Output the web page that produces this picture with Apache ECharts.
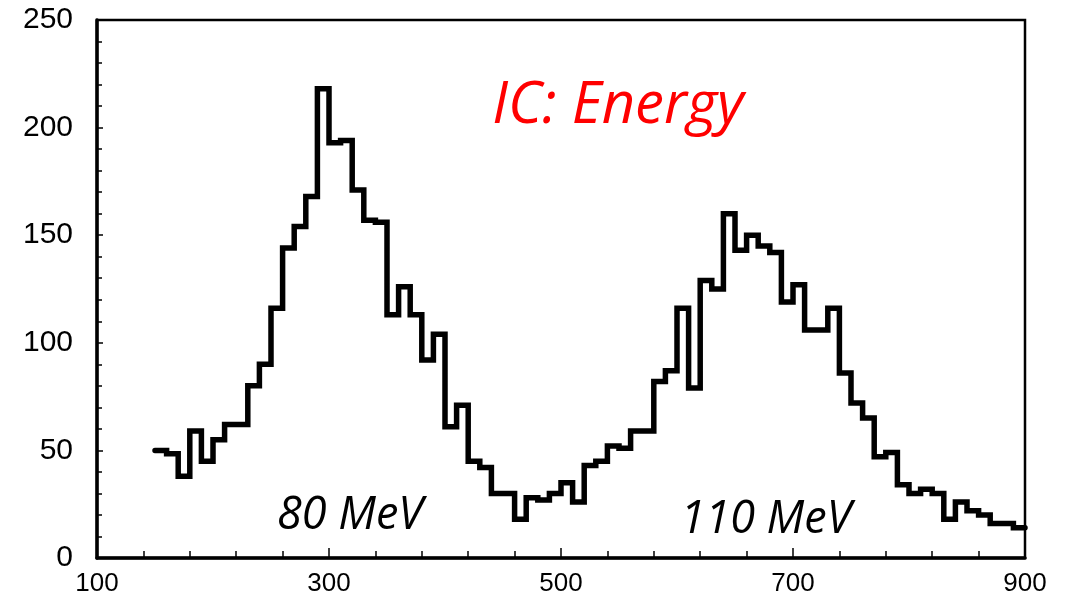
<!DOCTYPE html>
<html>
<head>
<meta charset="utf-8">
<script src="https://cdn.jsdelivr.net/npm/echarts@6/dist/echarts.min.js"></script>
<style>
html,body{margin:0;padding:0;background:#fff;}
#chart{width:1068px;height:598px;}
</style>
</head>
<body>
<div id="chart"></div>
<script>
// Bin lower edges (MeV-channel units) and counts
const binLow = [150,160,170,180,190,200,210,220,230,240,
  250,260,270,280,290,300,310,320,330,340,
  350,360,370,380,390,400,410,420,430,440,
  450,460,470,480,490,500,510,520,530,540,
  550,560,570,580,590,600,610,620,630,640,
  650,660,670,680,690,700,710,720,730,740,
  750,760,770,780,790,800,810,820,830,840,
  850,860,870,880,890];
const binHighLast = 900;
const counts = [50,48.5,38,59,45,55,62,62,80,90,
  116,144,154,168,218,193,194,171,157,156,
  113,126,113,92,104,61,71,45,42,30,
  30,18,28,27,30,35,26,43,45,52,
  51,59,59,82,87,116,79,129,125,160,
  143,150,145,142,119,127,106,106,116,86,
  72,65,47,49,34,30,32,30,18,26,
  22,20,16,16,14];
const xTicks = [100, 900, 200];   // min, max, label step
const yTicks = [0, 250, 50];
const titleText = 'IC: Energy';
const peakLabels = ['80 MeV', '110 MeV'];

const stepData = binLow.map((x, i) => [x, counts[i]]);
stepData.push([binHighLast, counts[counts.length - 1]]);

const chart = echarts.init(document.getElementById('chart'));
chart.setOption({
  animation: false,
  backgroundColor: '#fff',
  grid: {left: 97, right: 43, top: 20, bottom: 40, show: true,
         borderColor: '#000', borderWidth: 2.5, backgroundColor: 'transparent'},
  xAxis: {
    type: 'value', min: xTicks[0], max: xTicks[1], interval: xTicks[2],
    axisLine: {show: true, lineStyle: {color: '#000', width: 3.5}},
    axisTick: {show: true, inside: true, length: 10, lineStyle: {color: '#000', width: 1.5}},
    minorTick: {show: true, splitNumber: 5, length: 7, lineStyle: {color: '#000', width: 1.5}},
    splitLine: {show: false}, minorSplitLine: {show: false},
    axisLabel: {color: '#000', fontSize: 26, fontFamily: 'Liberation Sans', margin: 13}
  },
  yAxis: {
    type: 'value', min: yTicks[0], max: yTicks[1], interval: yTicks[2],
    axisLine: {show: true, lineStyle: {color: '#000', width: 3.5}},
    axisTick: {show: true, inside: true, length: 6, lineStyle: {color: '#000', width: 1.5}},
    minorTick: {show: true, splitNumber: 5, length: 5, lineStyle: {color: '#000', width: 1.5}},
    splitLine: {show: false}, minorSplitLine: {show: false},
    axisLabel: {color: '#000', fontSize: 30, fontFamily: 'Liberation Sans', margin: 24}
  },
  series: [{
    type: 'line', step: 'end', data: stepData,
    symbol: 'none', showSymbol: false,
    lineStyle: {color: '#000', width: 5.5, cap: 'round', join: 'miter'},
    z: 3
  }],
  graphic: [
    {type: 'text', x: 618, y: 106, z: 10,
     style: {text: titleText, fill: '#ff0000', font: 'italic 58px "Open Sans"',
             textAlign: 'center', textVerticalAlign: 'middle'}},
    {type: 'text', x: 350, y: 516, z: 10,
     style: {text: peakLabels[0], fill: '#000', font: 'italic 45px "Open Sans"',
             textAlign: 'center', textVerticalAlign: 'middle'}},
    {type: 'text', x: 766, y: 520, z: 10,
     style: {text: peakLabels[1], fill: '#000', font: 'italic 45px "Open Sans"',
             textAlign: 'center', textVerticalAlign: 'middle'}}
  ]
});
</script>
</body>
</html>
